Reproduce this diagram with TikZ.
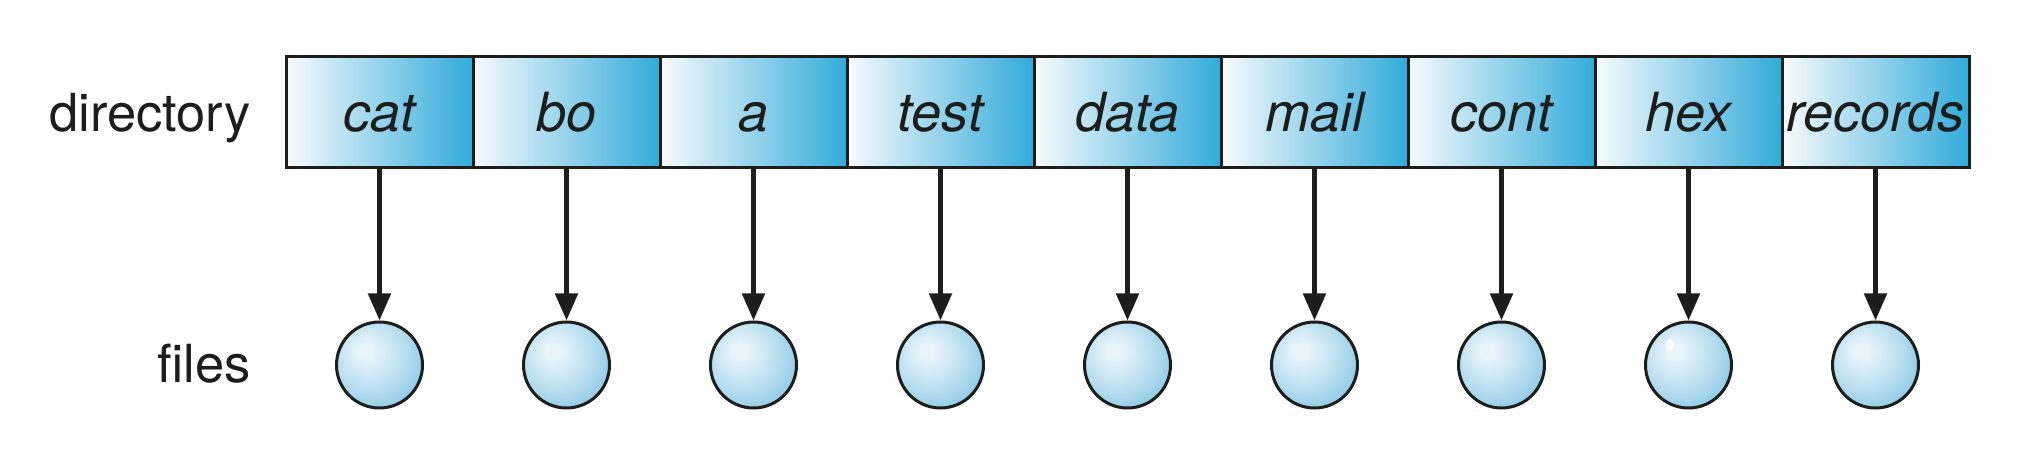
\documentclass[tikz,border=0pt]{standalone}
\usepackage{fontspec}
\setmainfont{TeX Gyre Heros}
\usetikzlibrary{arrows.meta}
\definecolor{ink}{HTML}{1D1D1B}
\definecolor{cellL}{HTML}{F8FBFD}
\definecolor{cellR}{HTML}{31ABDA}
\definecolor{sphIn}{HTML}{EAF5FB}
\definecolor{sphMid}{HTML}{B3DCEE}
\definecolor{sphOut}{HTML}{7DC2E2}
\pgfdeclareradialshading{filesph}{\pgfpoint{-9bp}{9bp}}{color(0bp)=(sphIn); color(4bp)=(sphIn); color(22bp)=(sphMid); color(36bp)=(sphOut); color(60bp)=(sphOut)}
\tikzset{
  cellbox/.style={draw=ink, line width=3pt, left color=cellL, right color=cellR,
    minimum width=187pt, minimum height=111pt, inner sep=0pt,
    text height=39pt, text depth=0pt, text=ink,
    font=\fontsize{54}{60}\selectfont\itshape},
  filenode/.style={circle, draw=ink, line width=3pt, shading=filesph,
    minimum size=86pt, inner sep=0pt},
  rowlabel/.style={anchor=base east, text=ink, inner sep=0pt,
    font=\fontsize{52.5}{60}\selectfont},
  conn/.style={draw=ink, line width=5pt, -{Stealth[length=27pt,width=22pt,inset=0pt]}},
}
\begin{document}
\begin{tikzpicture}[x=1pt,y=-1pt]
\useasboundingbox (0,0) rectangle (2022,454);
\node[rowlabel] (dirlabel) at (251,132) {directory};
\node[rowlabel] (fileslabel) at (251,382) {files};
\foreach \name [count=\i from 0] in {cat,bo,a,test,data,mail,cont,hex,records} {
  \node[cellbox] (c\i) at ({379.5+187*\i},112.5) {\name};
  \node[filenode] (f\i) at ({379.5+187*\i},365) {};
  \draw[conn] (c\i.south) -- (f\i.north);
}
\fill[white, opacity=0.8] (1670,345) ellipse [x radius=4pt, y radius=6pt];
\end{tikzpicture}
\end{document}
